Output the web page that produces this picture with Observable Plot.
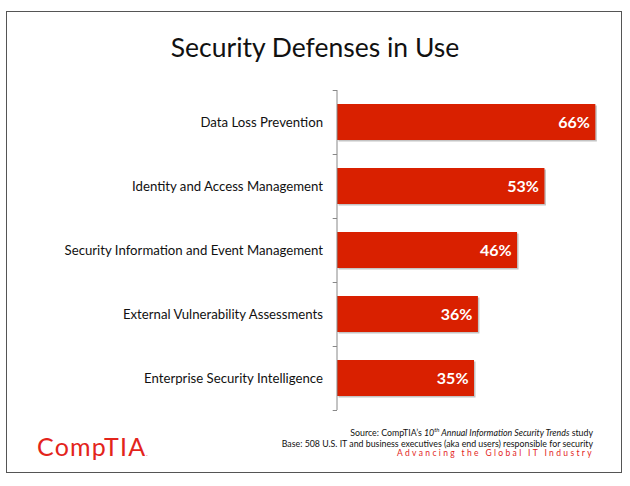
<!DOCTYPE html>
<html><head><meta charset="utf-8">
<script src="https://cdn.jsdelivr.net/npm/d3@7"></script>
<script src="https://cdn.jsdelivr.net/npm/@observablehq/plot@0.6"></script>
<style>
html,body{margin:0;padding:0;background:#fff;}
body{width:630px;height:486px;position:relative;overflow:hidden;font-family:Lato,"Open Sans",sans-serif;}
#frame{position:absolute;left:6px;top:11px;width:614px;height:460px;border:1.5px solid #555;}
#title{position:absolute;left:0;top:31px;width:630px;text-align:center;font-size:26.5px;color:#111;}
#chart{position:absolute;left:0;top:80px;}
#src{position:absolute;right:37px;top:424px;font-size:8.8px;text-align:right;color:#111;line-height:11px;white-space:nowrap;}
#tag{position:absolute;right:36px;top:448px;font-size:8.5px;color:#e3241b;letter-spacing:2.35px;white-space:nowrap;}
#logo{position:absolute;left:37px;top:431px;font-size:25px;color:#e3241b;letter-spacing:1.2px;}
</style></head>
<body>
<div id="frame"></div>
<div id="title">Security Defenses in Use</div>
<div id="chart"></div>
<div id="src">Source: CompTIA’s <i>10<sup style="font-size:6px">th</sup> Annual Information Security Trends</i> study<br>Base: 508 U.S. IT and business executives (aka end users) responsible for security</div>
<div id="tag">Advancing the Global IT Industry</div>
<div id="logo">CompTIA<span style="font-size:6px;letter-spacing:0">.</span></div>
<script>
const categories = ["Data Loss Prevention","Identity and Access Management","Security Information and Event Management","External Vulnerability Assessments","Enterprise Security Intelligence"];
const values = [66, 53, 46, 36, 35];
const data = categories.map((c, i) => ({category: c, value: values[i]}));
const red = "#d92000";
const plot = Plot.plot({
  width: 630, height: 340,
  marginLeft: 337, marginRight: 19, marginTop: 10, marginBottom: 10,
  x: {domain: [0, 70], axis: null},
  y: {domain: categories, paddingInner: 0.44, paddingOuter: 0.22, label: null},
  style: {fontFamily: "Lato, 'Open Sans', sans-serif", background: "transparent"},
  marks: [
    Plot.axisY({tickSize: 0, tickPadding: 14.5, fontSize: 13.2, fill: "#111"}),
    Plot.barX(data, {x: "value", y: "category", fill: "#c4c4c4", dx: 1.5, dy: 1.5}),
    Plot.barX(data, {x: "value", y: "category", fill: red}),
    Plot.text(data, {x: "value", y: "category", text: d => d.value + "%", textAnchor: "end", dx: -6, fill: "white", fontWeight: "bold", fontSize: 16}),
    Plot.ruleX([0], {stroke: "#888", strokeWidth: 1, dx: -0.5}),
    Plot.ruleY(categories, {y: d => d, x1: -1.1, x2: 0, dy: 32, stroke: "#888"}),
    Plot.ruleY(categories.slice(0, 1), {y: d => d, x1: -1.1, x2: 0, dy: -32, stroke: "#888"})
  ]
});
document.getElementById("chart").appendChild(plot);
</script>
</body></html>
